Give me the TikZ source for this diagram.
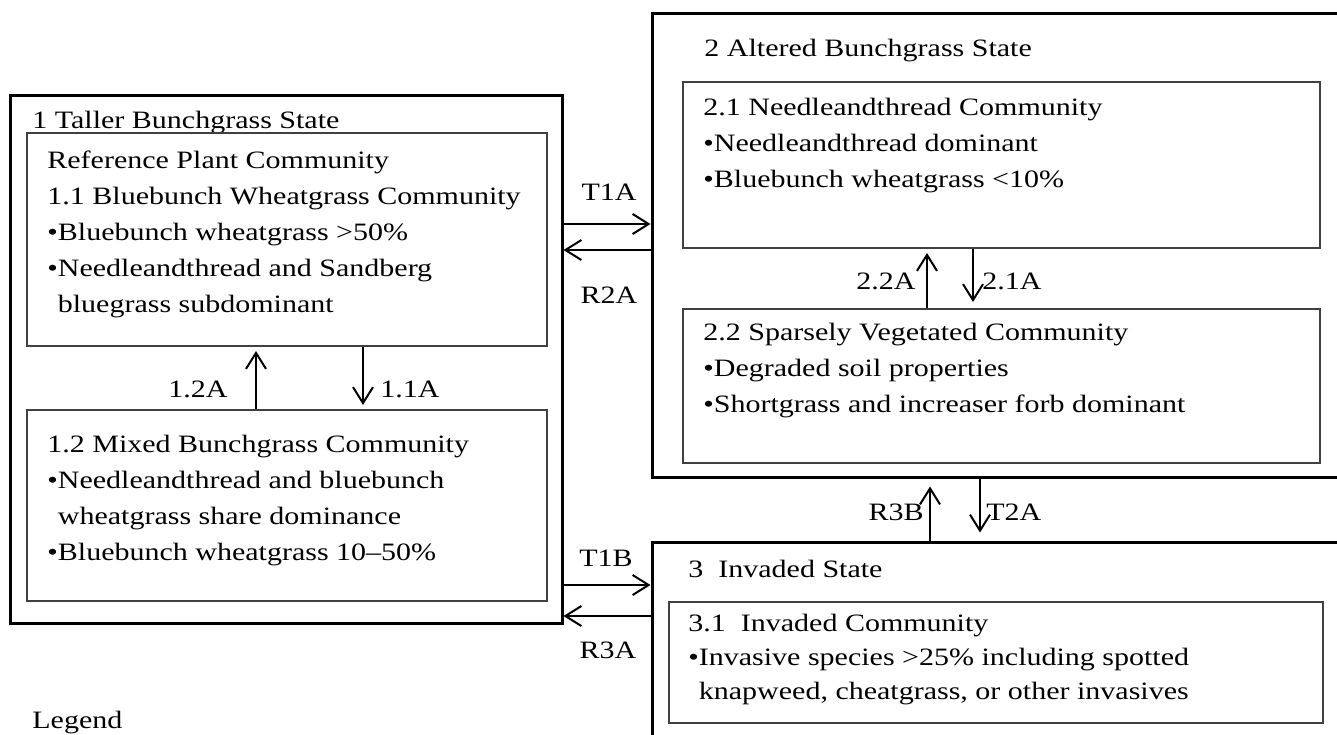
\documentclass[tikz,border=0pt]{standalone}
\usepackage{fontspec}
\setmainfont{Liberation Serif}[FakeStretch=1.2]
\usetikzlibrary{%
  arrows.meta,%
  fit,% wg. boxes from corners
  positioning%
}

\tikzset{
  statebox/.style={draw, line width=1.5pt, inner sep=0pt},
  commbox/.style={draw=black!75, line width=1pt, inner sep=0pt},
  boxtext/.style={anchor=base west, align=left, inner sep=0pt},% base = last line
  trans/.style={->, line width=1pt},
}

\begin{document}
\begin{tikzpicture}[
  x=0.5pt, y=-0.5pt,
  font=\fontsize{12.5}{18}\selectfont,
  >={Straight Barb[length=8pt,width=10pt]},
]
\useasboundingbox (0,0) rectangle (1337,734);

% state 1
\node[statebox, fit={(10,95) (562,623)}] (s1) {};
\node[boxtext] (s1title) at (32,128) {1 Taller Bunchgrass State};
\node[commbox, fit={(27,133) (547,346)}] (c11) {};
\node[boxtext] (c11text) at (47,312) {Reference Plant Community\\
  1.1 Bluebunch Wheatgrass Community\\
  •Bluebunch wheatgrass >50\%\\
  •Needleandthread and Sandberg\\
  \hphantom{•}bluegrass subdominant};
\node[commbox, fit={(27,410) (547,601)}] (c12) {};
\node[boxtext] (c12text) at (47,560) {1.2 Mixed Bunchgrass Community\\
  •Needleandthread and bluebunch\\
  \hphantom{•}wheatgrass share dominance\\
  •Bluebunch wheatgrass 10–50\%};

% state 2
\node[statebox, fit={(652,13) (1350,477)}] (s2) {};
\node[boxtext] (s2title) at (704,56) {2 Altered Bunchgrass State};
\node[commbox, fit={(683,82) (1320,248)}] (c21) {};
\node[boxtext] (c21text) at (703,187) {2.1 Needleandthread Community\\
  •Needleandthread dominant\\
  •Bluebunch wheatgrass <10\%};
\node[commbox, fit={(683,309) (1320,463)}] (c22) {};
\node[boxtext] (c22text) at (703,412) {2.2 Sparsely Vegetated Community\\
  •Degraded soil properties\\
  •Shortgrass and increaser forb dominant};

% state 3
\node[statebox, fit={(652,542) (1350,750)}] (s3) {};
\node[boxtext] (s3title) at (688,577) {3\ \ Invaded State};
\node[commbox, fit={(669,602) (1323,723)}] (c31) {};
\node[boxtext, font=\fontsize{12.5}{17}\selectfont] (c31text) at (688,699) {3.1\ \ Invaded Community\\
  •Invasive species >25\% including spotted\\
  \hphantom{•}knapweed, cheatgrass, or other invasives};

\node[boxtext] (legend) at (32,728) {Legend};

% transitions between states
\draw[trans] (s1.east |- 0,224) -- (s2.west |- 0,224);
\draw[trans] (s2.west |- 0,250) -- (s1.east |- 0,250);
\draw[trans] (s1.east |- 0,585) -- (s3.west |- 0,585);
\draw[trans] (s3.west |- 0,616) -- (s1.east |- 0,616);
\draw[trans, shorten >=4pt] (s3.north -| 930,0) -- (s2.south -| 930,0);
\draw[trans, shorten >=4pt] (s2.south -| 980,0) -- (s3.north -| 980,0);
\node (lT1A) at (609,192) {T1A};
\node (lR2A) at (609,295) {R2A};
\node (lT1B) at (606,558) {T1B};
\node (lR3A) at (608,650) {R3A};
\node[anchor=east, inner sep=1pt] (lR3B) at (926,512) {R3B};
\node[anchor=west, inner sep=1pt] (lT2A) at (984,512) {T2A};

% pathways inside states
\draw[trans, shorten >=2pt] (c12.north -| 256,0) -- (c11.south -| 256,0);
\draw[trans, shorten >=2pt] (c11.south -| 363,0) -- (c12.north -| 363,0);
\node (l12A) at (198,389) {1.2A};
\node (l11A) at (410,389) {1.1A};
\draw[trans, shorten >=2pt] (c22.north -| 927,0) -- (c21.south -| 927,0);
\draw[trans, shorten >=3pt] (c21.south -| 973,0) -- (c22.north -| 973,0);
\node[anchor=east, inner sep=1pt] (l22A) at (918,281) {2.2A};
\node[anchor=west, inner sep=1pt] (l21A) at (980,281) {2.1A};

\end{tikzpicture}
\end{document}
